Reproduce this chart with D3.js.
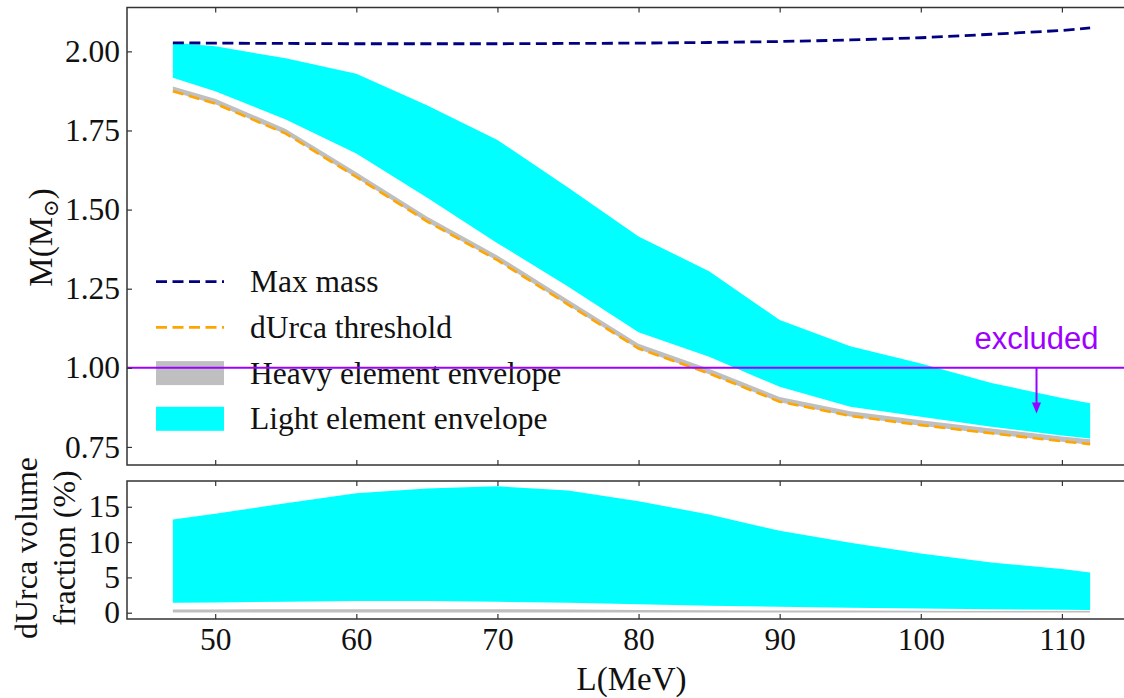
<!DOCTYPE html>
<html>
<head>
<meta charset="utf-8">
<script src="https://cdn.jsdelivr.net/npm/d3@7/dist/d3.min.js"></script>
<style>
  body { margin: 0; background: #fff; }
  svg { display: block; font-family: "Liberation Serif", "Times New Roman", serif; }
</style>
</head>
<body>
<svg id="chart" width="1124" height="698"></svg>
<script>
  // L (MeV) sampling of the curves
  var L_VALUES = [47, 50, 55, 60, 65, 70, 75, 80, 85, 90, 95, 100, 105, 110, 112];

  // upper panel, masses in solar masses
  var MAX_MASS = [2.027, 2.026, 2.025, 2.024, 2.024, 2.024, 2.025, 2.026, 2.028, 2.031, 2.036, 2.043, 2.054, 2.066, 2.074];
  var DURCA_THRESHOLD = [1.874, 1.835, 1.740, 1.603, 1.463, 1.340, 1.200, 1.061, 0.982, 0.893, 0.848, 0.819, 0.793, 0.768, 0.759];
  var HEAVY_LOW = [1.872, 1.833, 1.738, 1.601, 1.461, 1.338, 1.198, 1.059, 0.980, 0.891, 0.846, 0.817, 0.791, 0.766, 0.757];
  var HEAVY_HIGH = [1.889, 1.850, 1.755, 1.618, 1.478, 1.355, 1.215, 1.076, 0.997, 0.908, 0.863, 0.834, 0.808, 0.783, 0.774];
  var LIGHT_LOW = [1.917, 1.874, 1.785, 1.677, 1.538, 1.394, 1.257, 1.112, 1.035, 0.940, 0.877, 0.845, 0.814, 0.786, 0.777];
  var LIGHT_HIGH = [2.027, 2.016, 1.978, 1.929, 1.830, 1.720, 1.570, 1.415, 1.305, 1.151, 1.068, 1.014, 0.952, 0.905, 0.888];

  // lower panel, dUrca volume fraction in %
  var HEAVY_VOL_LOW = [0.02, 0.02, 0.02, 0.02, 0.02, 0.02, 0.02, 0.02, 0.02, 0.02, 0.02, 0.02, 0.02, 0.02, 0.02];
  var HEAVY_VOL_HIGH = [0.45, 0.47, 0.50, 0.50, 0.50, 0.48, 0.45, 0.40, 0.36, 0.32, 0.30, 0.28, 0.26, 0.25, 0.24];
  var LIGHT_VOL_LOW = [1.40, 1.45, 1.55, 1.65, 1.65, 1.55, 1.40, 1.20, 1.00, 0.85, 0.70, 0.60, 0.50, 0.42, 0.38];
  var LIGHT_VOL_HIGH = [13.2, 14.0, 15.5, 16.9, 17.6, 17.9, 17.3, 15.8, 13.9, 11.6, 9.9, 8.4, 7.1, 6.2, 5.7];

  var X_TICKS = [50, 60, 70, 80, 90, 100, 110];
  var MASS_TICKS = [0.75, 1.00, 1.25, 1.50, 1.75, 2.00];
  var VOL_TICKS = [0, 5, 10, 15];

  var EXCLUDED_MASS = 1.0;
  var EXCLUDED_LABEL = { L: 108.2, M: 1.059, arrowTo: 0.856, text: 'excluded' };

  var LEGEND = [
    { label: 'Max mass', type: 'line', color: '#000080' },
    { label: 'dUrca threshold', type: 'line', color: '#FFA500' },
    { label: 'Heavy element envelope', type: 'patch', color: '#BFBFBF' },
    { label: 'Light element envelope', type: 'patch', color: '#00FFFF' }
  ];

  const PANEL = { LEFT: 127, RIGHT: 1136, TOP1: 7.5, BOTTOM1: 465, TOP2: 481, BOTTOM2: 619 };
  const TICK_FONT = 31.5;
  const TEXT_COLOR = '#111';
  const SPINE_COLOR = '#333';
  const PURPLE = '#9d00ff';
  const DASH = '11,5.5';

  var svg = d3.select('#chart');

  var x = d3.scaleLinear().domain([43.75, 115.25]).range([PANEL.LEFT, PANEL.RIGHT]);
  var yMass = d3.scaleLinear().domain([0.6929, 2.1386]).range([PANEL.BOTTOM1, PANEL.TOP1]);
  var yVol = d3.scaleLinear().domain([-0.89, 18.65]).range([PANEL.BOTTOM2, PANEL.TOP2]);

  var rows = L_VALUES.map(function(l, i) {
    return {
      L: l,
      maxMass: MAX_MASS[i], durca: DURCA_THRESHOLD[i],
      heavyLow: HEAVY_LOW[i], heavyHigh: HEAVY_HIGH[i],
      lightLow: LIGHT_LOW[i], lightHigh: LIGHT_HIGH[i],
      heavyVolLow: HEAVY_VOL_LOW[i], heavyVolHigh: HEAVY_VOL_HIGH[i],
      lightVolLow: LIGHT_VOL_LOW[i], lightVolHigh: LIGHT_VOL_HIGH[i]
    };
  });

  function band(y, lo, hi) {
    return d3.area()
      .x(function(d) { return x(d.L); })
      .y0(function(d) { return y(d[lo]); })
      .y1(function(d) { return y(d[hi]); });
  }

  function curve(y, key) {
    return d3.line()
      .x(function(d) { return x(d.L); })
      .y(function(d) { return y(d[key]); });
  }

  /* upper panel */
  var upper = svg.append('g');

  upper.append('path').datum(rows)
    .attr('d', band(yMass, 'lightLow', 'lightHigh'))
    .style('fill', '#00FFFF');

  upper.append('path').datum(rows)
    .attr('d', band(yMass, 'heavyLow', 'heavyHigh'))
    .style('fill', '#BFBFBF');

  upper.append('path').datum(rows)
    .attr('d', curve(yMass, 'durca'))
    .style('fill', 'none').style('stroke', '#FFA500')
    .style('stroke-width', 2.6).style('stroke-dasharray', DASH);

  upper.append('path').datum(rows)
    .attr('d', curve(yMass, 'maxMass'))
    .style('fill', 'none').style('stroke', '#000080')
    .style('stroke-width', 2.8).style('stroke-dasharray', DASH);

  // legend
  var legend = upper.append('g');
  LEGEND.forEach(function(d, i) {
    var cy = 281.7 + i * 45.7;
    if (d.type === 'line') {
      legend.append('line')
        .attr('x1', 156).attr('x2', 224).attr('y1', cy).attr('y2', cy)
        .style('stroke', d.color).style('stroke-width', 2.8)
        .style('stroke-dasharray', DASH);
    } else {
      legend.append('rect')
        .attr('x', 156).attr('y', cy - 12).attr('width', 68).attr('height', 24)
        .style('fill', d.color);
    }
    legend.append('text')
      .attr('x', 250).attr('y', cy + 10.5)
      .style('font-size', '31.5px').style('fill', TEXT_COLOR)
      .text(d.label);
  });

  // excluded region marker
  upper.append('line')
    .attr('x1', PANEL.LEFT).attr('x2', PANEL.RIGHT)
    .attr('y1', yMass(EXCLUDED_MASS)).attr('y2', yMass(EXCLUDED_MASS))
    .style('stroke', PURPLE).style('stroke-width', 2);

  var ax = x(EXCLUDED_LABEL.L);
  var tipY = yMass(EXCLUDED_LABEL.arrowTo);
  upper.append('line')
    .attr('x1', ax).attr('x2', ax)
    .attr('y1', yMass(EXCLUDED_MASS)).attr('y2', tipY - 8)
    .style('stroke', PURPLE).style('stroke-width', 2);
  upper.append('path')
    .attr('d', 'M' + (ax - 4.5) + ',' + (tipY - 11) + 'L' + (ax + 4.5) + ',' + (tipY - 11) + 'L' + ax + ',' + tipY + 'Z')
    .style('fill', PURPLE);

  upper.append('text')
    .attr('x', ax).attr('y', yMass(EXCLUDED_LABEL.M))
    .attr('text-anchor', 'middle')
    .style('font-family', '"Liberation Sans", Arial, sans-serif')
    .style('font-size', '31px').style('fill', PURPLE)
    .text(EXCLUDED_LABEL.text);

  /* lower panel */
  var lower = svg.append('g');

  lower.append('path').datum(rows)
    .attr('d', band(yVol, 'lightVolLow', 'lightVolHigh'))
    .style('fill', '#00FFFF');

  lower.append('path').datum(rows)
    .attr('d', band(yVol, 'heavyVolLow', 'heavyVolHigh'))
    .style('fill', '#BFBFBF');

  /* axes */
  function styleAxis(g) {
    g.select('.domain').remove();
    g.selectAll('.tick line').style('stroke', SPINE_COLOR).style('stroke-width', 1.2);
    g.selectAll('.tick text')
      .style('font-family', '"Liberation Serif", "Times New Roman", serif')
      .style('font-size', TICK_FONT + 'px').style('fill', TEXT_COLOR);
  }

  svg.append('g')
    .attr('transform', 'translate(' + PANEL.LEFT + ',0)')
    .call(d3.axisLeft(yMass).tickValues(MASS_TICKS).tickFormat(d3.format('.2f'))
      .tickSize(-5).tickSizeOuter(0).tickPadding(7))
    .call(styleAxis);

  svg.append('g')
    .attr('transform', 'translate(' + PANEL.LEFT + ',0)')
    .call(d3.axisLeft(yVol).tickValues(VOL_TICKS).tickFormat(d3.format('d'))
      .tickSize(-5).tickSizeOuter(0).tickPadding(7))
    .call(styleAxis);

  [PANEL.BOTTOM1, PANEL.BOTTOM2].forEach(function(yy, i) {
    svg.append('g')
      .attr('transform', 'translate(0,' + yy + ')')
      .call(d3.axisBottom(x).tickValues(X_TICKS).tickFormat(i === 1 ? d3.format('d') : '')
        .tickSize(-5).tickSizeOuter(0).tickPadding(9))
      .call(styleAxis);
  });

  [PANEL.TOP1, PANEL.TOP2].forEach(function(yy) {
    svg.append('g')
      .attr('transform', 'translate(0,' + yy + ')')
      .call(d3.axisTop(x).tickValues(X_TICKS).tickFormat('')
        .tickSize(-5).tickSizeOuter(0))
      .call(styleAxis);
  });

  // spines
  [[PANEL.TOP1, PANEL.BOTTOM1], [PANEL.TOP2, PANEL.BOTTOM2]].forEach(function(p) {
    svg.append('rect')
      .attr('x', PANEL.LEFT).attr('y', p[0])
      .attr('width', PANEL.RIGHT - PANEL.LEFT).attr('height', p[1] - p[0])
      .style('fill', 'none').style('stroke', SPINE_COLOR).style('stroke-width', 1.5);
  });

  /* axis titles */
  var massLabel = svg.append('text')
    .attr('transform', 'translate(52,237.5) rotate(-90)')
    .attr('text-anchor', 'middle')
    .style('font-size', '33px').style('fill', TEXT_COLOR);
  massLabel.append('tspan').text('M(M');
  massLabel.append('tspan').attr('dy', 6).style('font-size', '21px')
    .style('font-family', '"DejaVu Serif", serif').text('\u2299');
  massLabel.append('tspan').attr('dy', -6).text(')');

  svg.append('text')
    .attr('transform', 'translate(37,548) rotate(-90)')
    .attr('text-anchor', 'middle')
    .style('font-size', '32px').style('fill', TEXT_COLOR)
    .text('dUrca volume');

  svg.append('text')
    .attr('transform', 'translate(75,548) rotate(-90)')
    .attr('text-anchor', 'middle')
    .style('font-size', '32px').style('fill', TEXT_COLOR)
    .text('fraction (%)');

  svg.append('text')
    .attr('x', (PANEL.LEFT + PANEL.RIGHT) / 2).attr('y', 690)
    .attr('text-anchor', 'middle')
    .style('font-size', '33px').style('fill', TEXT_COLOR)
    .text('L(MeV)');
</script>
</body>
</html>
